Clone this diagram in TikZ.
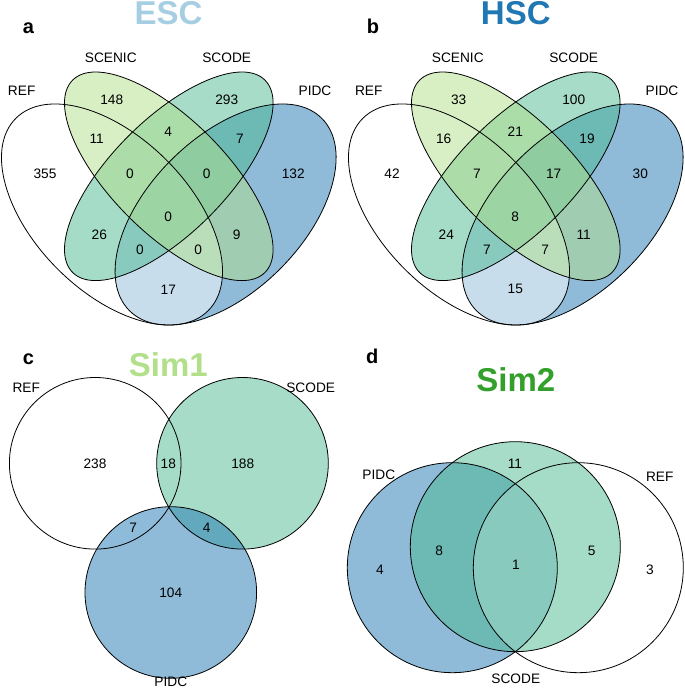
\documentclass[tikz,border=0pt]{standalone}
\usepackage{fontspec}
\setmainfont{Liberation Sans}
\usepackage{xcolor}
\usepackage{tikz}

\definecolor{pidcblue}{HTML}{1F78B4}
\definecolor{scenicgreen}{HTML}{B2DF8A}
\definecolor{scodeteal}{HTML}{4DB992}
\definecolor{esccol}{HTML}{A6CEE3}
\definecolor{hsccol}{HTML}{1F78B4}
\definecolor{simonecol}{HTML}{B2DF8A}
\definecolor{simtwocol}{HTML}{33A02C}

\tikzset{
	setline/.style={draw=black, line width=0.8pt},
	reffill/.style={fill=white, fill opacity=0.5},
	pidcfill/.style={fill=pidcblue, fill opacity=0.5},
	scenicfill/.style={fill=scenicgreen, fill opacity=0.5},
	scodefill/.style={fill=scodeteal, fill opacity=0.5},
	count/.style={font=\fontsize{13.7}{16}\selectfont, inner sep=0pt},
	setname/.style={font=\fontsize{13.7}{16}\selectfont, inner sep=0pt},
	paneltitle/.style={font=\fontsize{33}{36}\selectfont\bfseries, anchor=base, inner sep=0pt},
	panelletter/.style={font=\fontsize{20}{24}\selectfont\bfseries, anchor=base west, inner sep=0pt}
}

\begin{document}
\begin{tikzpicture}[x=1pt, y=1pt]
	\useasboundingbox (0,0) rectangle (685,689);

	% a and b: four ellipses, b is the same drawing moved right
	\foreach \dx in {0,347} {
		\begin{scope}[xshift=\dx]
			\fill[pidcfill] (225.6,474.5) ellipse [x radius=136, y radius=77, rotate=45];
			\fill[reffill] (112,474.5) ellipse [x radius=136, y radius=77, rotate=-45];
			\fill[scodefill] (168.8,512.7) ellipse [x radius=136, y radius=57, rotate=45];
			\fill[scenicfill] (168.8,512.7) ellipse [x radius=136, y radius=57, rotate=-45];
			\draw[setline] (225.6,474.5) ellipse [x radius=136, y radius=77, rotate=45];
			\draw[setline] (112,474.5) ellipse [x radius=136, y radius=77, rotate=-45];
			\draw[setline] (168.8,512.7) ellipse [x radius=136, y radius=57, rotate=45];
			\draw[setline] (168.8,512.7) ellipse [x radius=136, y radius=57, rotate=-45];
		\end{scope}
	}
	\foreach \px/\py/\name [count=\k] in {21.7/598/REF, 110.8/631.5/SCENIC, 226.7/631.5/SCODE, 315/598/PIDC} {
		\node[setname] (aset\k) at (\px,\py) {\name};
		\node[setname] (bset\k) at (\px+347,\py) {\name};
	}
	\foreach \px/\py/\ca/\cb [count=\k] in {
		111.7/589/148/33, 226.7/589/293/100,
		96.7/550.7/11/16, 168.3/557.3/4/21, 240/550.7/7/19,
		45/515.7/355/42, 130/515.7/0/7, 206.7/515.7/0/17, 293.3/515.7/132/30,
		168.3/472.3/0/8,
		99.3/454/26/24, 236.7/454/9/11,
		140/439/0/7, 198.3/439/0/7,
		168.3/399.7/17/15} {
		\node[count] (acount\k) at (\px,\py) {\ca};
		\node[count] (bcount\k) at (\px+347,\py) {\cb};
	}
	\node[paneltitle, text=esccol] (esctitle) at (168.5,664) {ESC};
	\node[panelletter] (aletter) at (22.7,655.7) {a};
	\node[paneltitle, text=hsccol] (hsctitle) at (515.8,664) {HSC};
	\node[panelletter] (bletter) at (366.7,655.7) {b};

	% c: three circles
	\fill[reffill] (95.2,225.7) circle [radius=85.8];
	\fill[scodefill] (242.5,225.7) circle [radius=85.8];
	\fill[pidcfill] (170.8,96.5) circle [radius=85.8];
	\draw[setline] (95.2,225.7) circle [radius=85.8];
	\draw[setline] (242.5,225.7) circle [radius=85.8];
	\draw[setline] (170.8,96.5) circle [radius=85.8];
	\node[setname] (cref) at (26.3,301.3) {REF};
	\node[setname] (cscode) at (310.7,301.3) {SCODE};
	\node[setname] (cpidc) at (170.8,7) {PIDC};
	\node[count] (c238) at (95,225.7) {238};
	\node[count] (c18) at (168.3,225) {18};
	\node[count] (c188) at (242.7,225.7) {188};
	\node[count] (c7) at (133.3,161.7) {7};
	\node[count] (c4) at (206.7,161.7) {4};
	\node[count] (c104) at (170.7,96.7) {104};
	\node[paneltitle, text=simonecol] (simonetitle) at (168.4,312.3) {Sim1};
	\node[panelletter] (cletter) at (22.7,324) {c};

	% d: three circles
	\fill[pidcfill] (452.3,121.3) circle [radius=105];
	\fill[reffill] (578.3,121.3) circle [radius=105];
	\fill[scodefill] (515.3,142.3) circle [radius=105];
	\draw[setline] (452.3,121.3) circle [radius=105];
	\draw[setline] (578.3,121.3) circle [radius=105];
	\draw[setline] (515.3,142.3) circle [radius=105];
	\node[setname] (dpidc) at (378.8,214) {PIDC};
	\node[setname] (dref) at (659.7,212.3) {REF};
	\node[setname] (dscode) at (515.8,10.7) {SCODE};
	\node[count] (d11) at (515,225.7) {11};
	\node[count] (d8) at (439.3,138) {8};
	\node[count] (d1) at (516,124.7) {1};
	\node[count] (d5) at (591.7,138) {5};
	\node[count] (d4) at (380,119.7) {4};
	\node[count] (d3) at (650,119.7) {3};
	\node[paneltitle, text=simtwocol] (simtwotitle) at (515.8,297.3) {Sim2};
	\node[panelletter] (dletter) at (366,325) {d};
\end{tikzpicture}
\end{document}
